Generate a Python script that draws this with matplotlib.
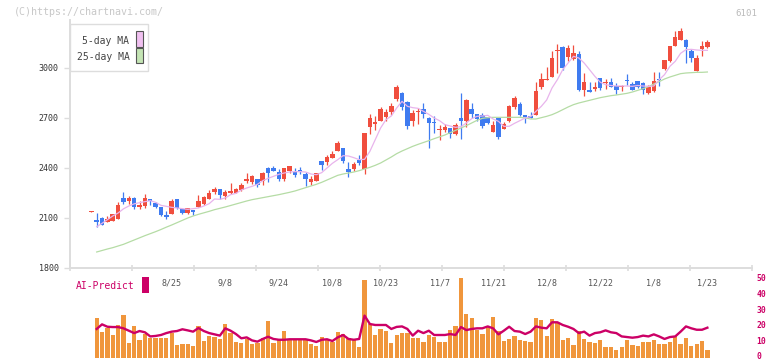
import numpy as np
import matplotlib
matplotlib.use('Agg')
import matplotlib.pyplot as plt
from matplotlib.patches import Rectangle
from matplotlib.transforms import blended_transform_factory

plt.rcParams['font.family'] = ['DejaVu Sans Mono']

# ---------------- data ----------------
opens = [2138, 2088, 2102, 2078, 2084, 2096, 2220, 2204, 2218, 2164,
         2172, 2214, 2192, 2166, 2118, 2126, 2214, 2152, 2130, 2148,
         2168, 2184, 2216, 2256, 2274, 2234, 2248, 2252, 2270, 2322,
         2318, 2332, 2322, 2398, 2398, 2374, 2336, 2382, 2376, 2388,
         2366, 2314, 2322, 2442, 2434, 2460, 2504, 2520, 2394, 2396,
         2448, 2392, 2648, 2666, 2684, 2708, 2738, 2814, 2850, 2796,
         2684, 2736, 2754, 2700, 2676, 2630, 2628, 2640, 2606, 2700,
         2684, 2754, 2724, 2718, 2706, 2616, 2700, 2634, 2682, 2766,
         2784, 2718, 2712, 2720, 2886, 2930, 2946, 3102, 3126, 3068,
         3054, 3084, 2868, 2868, 2874, 2940, 2910, 2916, 2892, 2886,
         2928, 2904, 2922, 2910, 2850, 2862, 2934, 2994, 3042, 3132,
         3168, 3168, 3102, 2982, 3114, 3126]
closes = [2140, 2078, 2060, 2094, 2124, 2178, 2196, 2220, 2168, 2178,
          2220, 2202, 2168, 2118, 2108, 2202, 2158, 2130, 2158, 2138,
          2202, 2226, 2252, 2274, 2240, 2256, 2264, 2274, 2298, 2334,
          2350, 2298, 2370, 2372, 2382, 2336, 2398, 2412, 2358, 2376,
          2334, 2334, 2370, 2418, 2466, 2484, 2548, 2442, 2376, 2426,
          2432, 2610, 2702, 2676, 2754, 2738, 2772, 2886, 2768, 2652,
          2730, 2742, 2724, 2670, 2670, 2634, 2646, 2606, 2656, 2684,
          2808, 2726, 2694, 2652, 2670, 2658, 2586, 2664, 2772, 2820,
          2718, 2706, 2700, 2862, 2934, 2934, 3060, 3108, 3002, 3120,
          3090, 2868, 2916, 2854, 2886, 2880, 2916, 2886, 2868, 2892,
          2922, 2868, 2886, 2868, 2886, 2922, 2928, 3048, 3132, 3186,
          3222, 3126, 3060, 3060, 3132, 3156]
highs = [2140, 2132, 2104, 2112, 2124, 2196, 2256, 2232, 2226, 2202,
         2244, 2214, 2198, 2166, 2142, 2212, 2214, 2152, 2158, 2148,
         2238, 2232, 2268, 2286, 2274, 2268, 2310, 2280, 2310, 2368,
         2356, 2332, 2376, 2404, 2414, 2392, 2398, 2412, 2398, 2406,
         2378, 2350, 2370, 2442, 2478, 2502, 2560, 2520, 2436, 2436,
         2478, 2610, 2722, 2710, 2768, 2754, 2790, 2898, 2856, 2802,
         2748, 2760, 2790, 2706, 2712, 2660, 2664, 2640, 2670, 2850,
         2814, 2790, 2724, 2730, 2706, 2682, 2700, 2676, 2778, 2832,
         2796, 2718, 2736, 2916, 2970, 3006, 3102, 3144, 3132, 3138,
         3138, 3102, 2970, 2916, 2916, 2940, 2934, 2940, 2910, 2898,
         2964, 2916, 2922, 2916, 2898, 2976, 2976, 3048, 3132, 3222,
         3240, 3174, 3114, 3078, 3162, 3168]
lows = [2138, 2048, 2058, 2076, 2080, 2094, 2184, 2184, 2152, 2156,
        2160, 2178, 2160, 2110, 2094, 2124, 2154, 2126, 2124, 2120,
        2164, 2176, 2212, 2244, 2216, 2216, 2246, 2252, 2262, 2310,
        2302, 2286, 2298, 2318, 2380, 2324, 2324, 2370, 2346, 2364,
        2292, 2296, 2322, 2388, 2416, 2458, 2500, 2430, 2346, 2380,
        2416, 2366, 2602, 2630, 2684, 2682, 2718, 2802, 2750, 2634,
        2654, 2664, 2700, 2520, 2610, 2568, 2616, 2582, 2600, 2572,
        2644, 2700, 2680, 2640, 2664, 2616, 2574, 2632, 2676, 2754,
        2712, 2670, 2700, 2720, 2874, 2928, 2946, 2970, 2988, 3042,
        3048, 2862, 2832, 2854, 2862, 2868, 2874, 2886, 2844, 2862,
        2898, 2866, 2880, 2844, 2844, 2856, 2892, 2990, 3036, 3132,
        3168, 3030, 3036, 2982, 3072, 3120]

nan = float('nan')
ma5 = [nan, 2048, 2068, 2090, 2112, 2130, 2155, 2172, 2185, 2192,
       2198, 2204, 2194, 2176, 2170, 2164, 2160, 2156, 2152, 2156,
       2160, 2172, 2186, 2214, 2212, 2220, 2240, 2248, 2268, 2280,
       2290, 2302, 2324, 2338, 2350, 2362, 2370, 2376, 2378, 2378,
       2376, 2364, 2360, 2372, 2400, 2428, 2450, 2474, 2472, 2462,
       2450, 2452, 2500, 2570, 2640, 2690, 2712, 2760, 2800, 2770,
       2762, 2758, 2740, 2722, 2700, 2684, 2660, 2652, 2644, 2648,
       2670, 2696, 2710, 2712, 2716, 2694, 2680, 2650, 2650, 2668,
       2684, 2700, 2708, 2740, 2770, 2808, 2880, 2930, 2990, 3030,
       3070, 3060, 3030, 2990, 2950, 2915, 2900, 2895, 2892, 2892,
       2892, 2890, 2895, 2892, 2890, 2892, 2930, 2960, 3010, 3040,
       3088, 3110, 3112, 3108, 3106, 3106]
ma25 = [nan, 1896, 1905, 1914, 1922, 1932, 1942, 1955, 1968, 1981,
        1994, 2006, 2018, 2031, 2045, 2058, 2072, 2086, 2100, 2112,
        2122, 2131, 2140, 2150, 2158, 2166, 2175, 2184, 2193, 2202,
        2210, 2216, 2222, 2228, 2234, 2240, 2247, 2254, 2262, 2272,
        2282, 2292, 2302, 2314, 2328, 2342, 2356, 2364, 2370, 2376,
        2384, 2394, 2404, 2416, 2430, 2448, 2466, 2486, 2502, 2516,
        2530, 2542, 2553, 2564, 2576, 2587, 2598, 2612, 2626, 2640,
        2654, 2670, 2686, 2698, 2702, 2704, 2704, 2704, 2704, 2704,
        2704, 2700, 2694, 2694, 2702, 2710, 2720, 2734, 2750, 2766,
        2780, 2790, 2798, 2806, 2814, 2822, 2828, 2834, 2838, 2843,
        2848, 2856, 2866, 2876, 2888, 2904, 2918, 2934, 2946, 2956,
        2966, 2970, 2972, 2974, 2974, 2976]

volume = [nan, 25.0, 16.4, 18.7, 14.3, 20.6, 26.9, 9.2, 20.0, 11.1,
          14.9, 12.4, 12.4, 12.4, 12.4, 15.5, 8.0, 8.6, 8.6, 7.4,
          20.0, 10.5, 13.7, 13.0, 11.8, 21.2, 15.5, 9.9, 9.2, 11.8,
          8.6, 9.2, 12.4, 23.1, 9.2, 11.1, 16.8, 11.1, 11.1, 11.1,
          11.1, 8.6, 7.4, 13.0, 11.1, 9.9, 16.2, 14.9, 12.4, 11.1,
          6.7, 49.0, 21.2, 14.3, 18.1, 16.8, 9.2, 14.3, 15.5, 15.5,
          12.4, 12.4, 9.9, 14.3, 13.0, 9.9, 9.9, 17.4, 20.0, 50.0,
          27.5, 25.0, 17.4, 14.9, 19.3, 25.6, 16.8, 10.5, 11.8, 13.7,
          11.1, 10.5, 9.9, 25.0, 23.7, 13.7, 24.4, 21.8, 11.1, 12.4,
          8.0, 16.8, 11.8, 9.9, 9.2, 11.1, 6.7, 6.7, 4.8, 6.7,
          11.1, 8.0, 7.4, 9.9, 9.9, 11.1, 8.6, 8.6, 9.9, 13.7,
          8.6, 12.4, 7.4, 8.6, 10.5, 4.8]
ai_predict = [nan, 18.1, 21.0, 19.5, 19.3, 19.3, 18.5, 17.0, 15.5, 16.8,
              16.0, 13.4, 13.7, 14.3, 15.5, 16.4, 16.8, 17.9, 17.2, 16.4,
              18.7, 16.8, 15.5, 14.7, 13.9, 18.5, 17.0, 14.9, 12.2, 12.8,
              10.9, 10.1, 11.8, 13.2, 11.8, 11.3, 11.3, 11.6, 11.6, 11.6,
              11.6, 10.9, 9.9, 11.3, 11.6, 10.5, 12.8, 14.3, 11.8, 11.3,
              11.8, 26.5, 21.2, 20.6, 20.6, 20.6, 18.1, 19.4, 19.7, 18.1,
              13.9, 17.0, 15.5, 17.0, 14.3, 14.3, 14.3, 14.9, 14.3, 19.3,
              17.4, 18.1, 18.5, 18.5, 19.7, 18.5, 14.7, 17.0, 19.5, 16.8,
              16.4, 14.9, 16.4, 19.7, 18.9, 18.5, 22.3, 22.3, 20.6, 19.5,
              18.1, 15.5, 16.4, 13.9, 15.5, 16.0, 17.2, 16.0, 15.5, 13.4,
              13.0, 12.6, 13.0, 13.9, 13.4, 14.7, 13.4, 11.8, 13.0, 13.4,
              16.4, 19.7, 18.5, 17.6, 17.6, 18.9]

date_labels = ['8/25', '9/8', '9/24', '10/8', '10/23', '11/7',
               '11/21', '12/8', '12/22', '1/8', '1/23']
date_label_idx = [15, 25, 35, 45, 55, 65, 75, 85, 95, 105, 115]
price_ticks = [1800, 2100, 2400, 2700, 3000]
vol_ticks = [0, 10, 20, 30, 40, 50]

# ---------------- figure ----------------
W, H = 772, 361
fig = plt.figure(figsize=(W / 100, H / 100), dpi=100)
fig.patch.set_facecolor('white')

def fx(px):
    return px / W

def fy(py):
    return 1 - py / H

RED = '#f04e3e'
BLUE = '#3f7bf0'
GRID = '#dddddd'
CRIMSON = '#cc0066'

n = len(closes)
x = np.arange(n)
xlim = (-3.98, 123.33)

ax = fig.add_axes([fx(70), fy(268), fx(752) - fx(70), fy(20) - fy(268)])
ax.set_xlim(*xlim)
ax.set_ylim(1800, 3288)

o = np.array(opens, float)
c = np.array(closes, float)
h = np.array(highs, float)
l = np.array(lows, float)
up = c >= o
cols = np.where(up, RED, BLUE)
bottoms = np.minimum(o, c)
heights = np.maximum(np.abs(c - o), 5)
ax.vlines(x, l, h, colors=cols, linewidth=0.9, zorder=2)
ax.bar(x, heights, bottom=bottoms, width=0.84, color=cols, linewidth=0, zorder=3)

ax.plot(x, ma25, color='#b5dca5', linewidth=0.9, zorder=4)
ax.plot(x, ma5, color='#e8b4ec', linewidth=0.9, zorder=4)

for s in ['top', 'right']:
    ax.spines[s].set_visible(False)
for s in ['left', 'bottom']:
    ax.spines[s].set_color(GRID)
    ax.spines[s].set_linewidth(1.4)

ax.set_yticks(price_ticks)
ax.set_yticklabels([str(t) for t in price_ticks])
ax.tick_params(axis='y', colors=GRID, labelcolor='#333333', labelsize=6,
               length=4, width=1, pad=4)
ax.set_xticks(np.linspace(xlim[0], xlim[1], 12))
ax.set_xticklabels([])
ax.tick_params(axis='x', colors=GRID, length=5, width=1.2, direction='inout')

tr = blended_transform_factory(ax.transData, fig.transFigure)
for lab, idx in zip(date_labels, date_label_idx):
    ax.text(idx, fy(283), lab, transform=tr, ha='center', va='center',
            fontsize=6, color='#555555', clip_on=False)

# ---------------- volume / AI panel ----------------
vax = fig.add_axes([fx(70), fy(357.7), fx(752) - fx(70), fy(278.3) - fy(357.7)])
vax.set_xlim(*xlim)
vax.set_ylim(0, 50)
vax.bar(x, volume, width=0.8, color='#f0963c', linewidth=0, zorder=2)
vax.plot(x, ai_predict, color=CRIMSON, linewidth=1.7, zorder=3)
for s in vax.spines.values():
    s.set_visible(False)
vax.set_xticks([])
vax.set_yticks([])
vax.patch.set_alpha(0)

vtr = blended_transform_factory(fig.transFigure, vax.transData)
for t in vol_ticks:
    yv = t if t > 0 else 1.0
    vax.text(fx(756.5), yv, str(t), transform=vtr, ha='left', va='center',
             fontsize=5.8, color=CRIMSON, fontweight='bold', clip_on=False)

fig.text(fx(76), fy(286), 'AI-Predict', color=CRIMSON, fontsize=7,
         ha='left', va='center')
fig.add_artist(Rectangle((fx(142.3), fy(292.7)), fx(6.4), fy(0) - fy(15.4),
                         transform=fig.transFigure, facecolor=CRIMSON,
                         edgecolor='none'))

# ---------------- legend box ----------------
fig.add_artist(Rectangle((fx(70), fy(71)), fx(78.3), fy(0) - fy(46.7),
                         transform=fig.transFigure, facecolor='white',
                         edgecolor='#dddddd', linewidth=1, zorder=5))
fig.text(fx(129.5), fy(40.7), '5-day MA', color='#444444', fontsize=7,
         ha='right', va='center', zorder=6)
fig.text(fx(129.5), fy(57), '25-day MA', color='#444444', fontsize=7,
         ha='right', va='center', zorder=6)
fig.add_artist(Rectangle((fx(136.3), fy(46.7)), fx(6.4), fy(0) - fy(15.7),
                         transform=fig.transFigure, facecolor='#f0c0f0',
                         edgecolor='#555555', linewidth=0.8, zorder=6))
fig.add_artist(Rectangle((fx(136.3), fy(63.3)), fx(6.4), fy(0) - fy(15.0),
                         transform=fig.transFigure, facecolor='#c4e4b4',
                         edgecolor='#555555', linewidth=0.8, zorder=6))

fig.text(fx(14), fy(12.3), '(C)https://chartnavi.com/', color='#c8c8c8',
         fontsize=7.2, ha='left', va='center')
fig.text(fx(757), fy(13), '6101', color='#bbbbbb', fontsize=6.6,
         ha='right', va='center')

fig.savefig('out.png', dpi=100, facecolor='white')
